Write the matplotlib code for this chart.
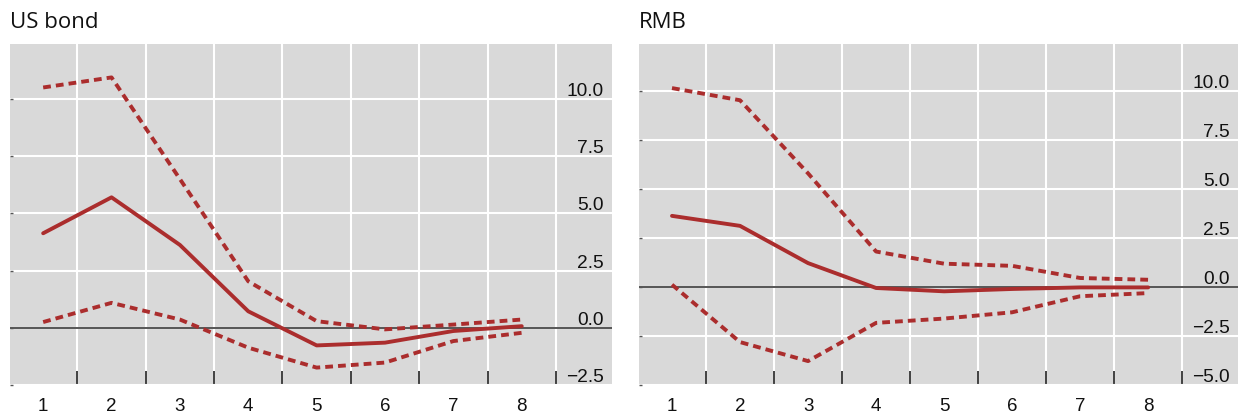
import numpy as np
import matplotlib
matplotlib.use("Agg")
import matplotlib.pyplot as plt
from matplotlib.ticker import FixedLocator

# -----------------------------
# Data
# -----------------------------
periods = [1, 2, 3, 4, 5, 6, 7, 8]

us_mid = [4.13, 5.70, 3.62, 0.72, -0.77, -0.65, -0.14, 0.07]
us_upper = [10.5, 10.94, 6.5, 2.03, 0.29, -0.07, 0.14, 0.36]
us_lower = [0.25, 1.09, 0.36, -0.87, -1.74, -1.52, -0.58, -0.22]

rmb_mid = [3.63, 3.12, 1.22, -0.05, -0.22, -0.10, -0.02, -0.02]
rmb_upper = [10.15, 9.53, 5.8, 1.81, 1.19, 1.08, 0.46, 0.37]
rmb_lower = [0.12, -2.81, -3.78, -1.83, -1.61, -1.29, -0.47, -0.31]

us_yticks = [-2.5, 0.0, 2.5, 5.0, 7.5, 10.0]
rmb_yticks = [-5.0, -2.5, 0.0, 2.5, 5.0, 7.5, 10.0]

# -----------------------------
# Style
# -----------------------------
RED = "#ab2d2d"
BG = "#d9d9d9"
plt.rcParams["font.family"] = ["Liberation Sans", "DejaVu Sans"]


def draw_panel(ax, title, mid, upper, lower, yticks, ylim):
    ax.set_facecolor(BG)
    for s in ax.spines.values():
        s.set_visible(False)

    ax.set_xlim(0.515, 9.32)
    ax.set_ylim(*ylim)

    # grid: horizontal at y ticks, vertical between periods
    ax.xaxis.set_major_locator(FixedLocator(periods))
    ax.xaxis.set_minor_locator(FixedLocator([p + 0.5 for p in periods]))
    ax.set_xticklabels([str(p) for p in periods])
    ax.tick_params(axis="x", which="major", length=0, pad=9, labelsize=13.5,
                   colors="#111111")
    ax.tick_params(axis="x", which="minor", direction="in", length=10,
                   width=1.3, color="#333333")
    ax.grid(True, which="minor", axis="x", color="white", lw=1.5)

    ax.set_yticks(yticks)
    ax.set_yticklabels([f"{v:.1f}".replace("-", "\u2212") for v in yticks],
                       ha="right", va="bottom")
    ax.yaxis.set_ticks_position("left")
    ax.tick_params(axis="y", direction="in", length=2, width=1.0,
                   color="#555555", left=True, right=False,
                   labelleft=False, labelright=True, pad=-6,
                   labelsize=13.8, labelcolor="#111111")
    for lab in ax.get_yticklabels():
        lab.set_horizontalalignment("right")
        lab.set_verticalalignment("bottom")
    ax.grid(True, which="major", axis="y", color="white", lw=1.5)
    ax.set_axisbelow(True)

    ax.axhline(0, color="#555555", lw=1.4, zorder=2)

    ax.plot(periods, upper, color=RED, lw=2.8, ls=(0, (2.0, 1.3)), zorder=3)
    ax.plot(periods, lower, color=RED, lw=2.8, ls=(0, (2.0, 1.3)), zorder=3)
    ax.plot(periods, mid, color=RED, lw=2.8, zorder=4,
            solid_capstyle="round")

    ax.text(0.0, 1.035, title, transform=ax.transAxes, fontsize=16,
            family=["Open Sans", "DejaVu Sans"], color="#111111",
            ha="left", va="bottom")


fig = plt.figure(figsize=(12.38, 4.14), dpi=100)
ax1 = fig.add_axes([10 / 1238, 28 / 414, 602 / 1238, 341 / 414])
ax2 = fig.add_axes([639 / 1238, 28 / 414, 599 / 1238, 341 / 414])

draw_panel(ax1, "US bond", us_mid, us_upper, us_lower, us_yticks,
           (-2.43, 12.4))
draw_panel(ax2, "RMB", rmb_mid, rmb_upper, rmb_lower, rmb_yticks,
           (-4.93, 12.4))

fig.savefig("out.png", dpi=100)
